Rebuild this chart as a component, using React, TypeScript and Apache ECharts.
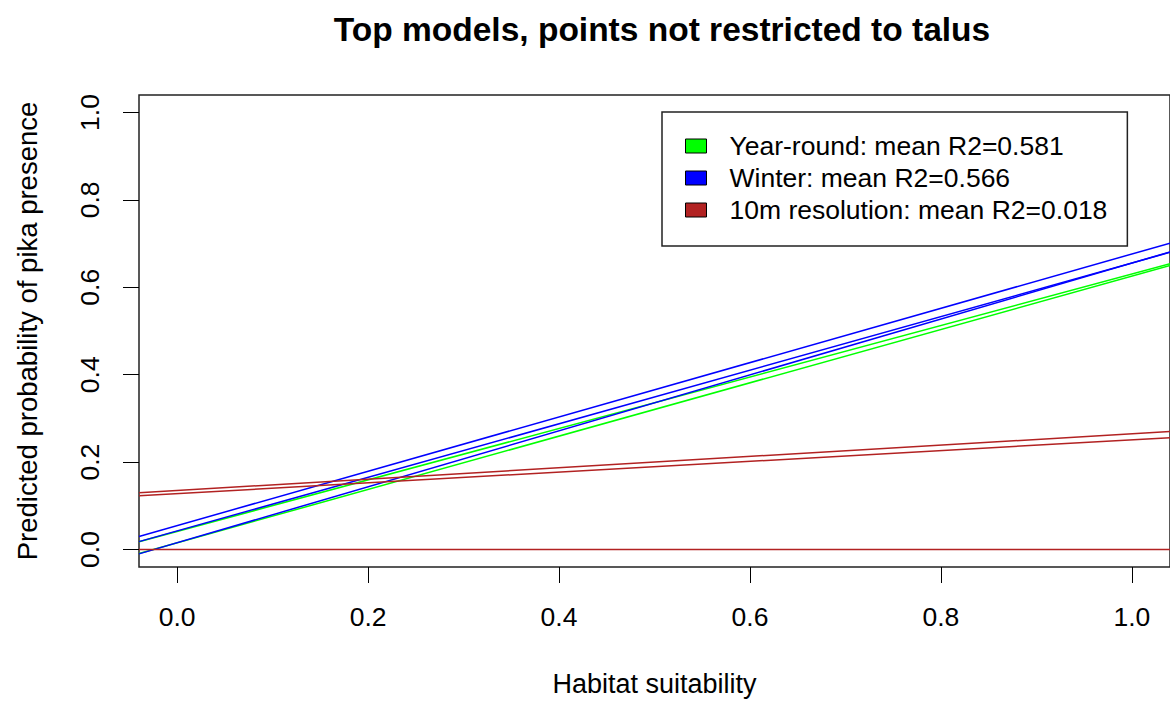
import React, { useEffect, useRef } from "react";
import * as echarts from "echarts";

const chartTitle = "Top models, points not restricted to talus";
const xName = "Habitat suitability";
const yName = "Predicted probability of pika presence";

const xTicks = [0, 0.2, 0.4, 0.6, 0.8, 1.0];
const yTicks = [0, 0.2, 0.4, 0.6, 0.8, 1.0];

// x positions of line end points (lines span the whole plot, like abline)
const lineX = [-0.04, 1.04];

const groupNames = [
  "Year-round: mean R2=0.581",
  "Winter: mean R2=0.566",
  "10m resolution: mean R2=0.018",
];
const groupColors = ["#00FF00", "#0000FF", "#B22222"];

// predicted probability at each end of lineX, one pair per model line
const yearRoundLines = [
  [0.018, 0.654],
  [-0.009, 0.65],
];
const winterLines = [
  [0.03, 0.701],
  [0.018, 0.68],
  [-0.01, 0.681],
];
const tenMeterLines = [
  [0.13, 0.27],
  [0.123, 0.256],
  [0.0, 0.0],
];

const FONT = "'Liberation Sans', Arial, sans-serif";

export default function App() {
  const ref = useRef<HTMLDivElement>(null);

  useEffect(() => {
    if (!ref.current) return;
    const chart = echarts.init(ref.current, undefined, { renderer: "svg" });

    const groups = [yearRoundLines, winterLines, tenMeterLines];
    const series: any[] = [];
    groups.forEach((lines, gi) => {
      lines.forEach((ys) => {
        series.push({
          type: "line",
          name: groupNames[gi],
          color: groupColors[gi],
          data: lineX.map((x, i) => [x, ys[i]]),
          showSymbol: false,
          symbol: "none",
          silent: true,
          lineStyle: { color: groupColors[gi], width: 1.5 },
        });
      });
    });

    chart.setOption({
      animation: false,
      textStyle: { fontFamily: FONT },
      title: {
        text: chartTitle,
        left: 657,
        top: 7,
        textAlign: "center",
        textStyle: {
          fontFamily: FONT,
          fontSize: 33.5,
          fontWeight: "bold",
          color: "#000",
        },
      },
      grid: {
        left: 139,
        top: 95,
        right: -17,
        bottom: 132,
        show: true,
        borderColor: "#222",
        borderWidth: 1.5,
        backgroundColor: "transparent",
      },
      legend: {
        show: true,
        orient: "vertical",
        left: 662,
        top: 112,
        data: groupNames.map((n) => ({ name: n, icon: "rect" })),
        itemWidth: 21,
        itemHeight: 14,
        itemGap: 0,
        padding: [18, 20, 20, 23],
        selectedMode: false,
        backgroundColor: "#fff",
        borderColor: "#222",
        borderWidth: 1.5,
        itemStyle: { borderColor: "#000", borderWidth: 1 },
        textStyle: {
          fontFamily: FONT,
          fontSize: 26.5,
          color: "#000",
          lineHeight: 32,
          padding: [0, 0, 0, 18],
        },
      },
      xAxis: {
        type: "value",
        min: -0.04,
        max: 1.04,
        name: xName,
        nameLocation: "middle",
        nameGap: 103,
        nameTextStyle: { fontFamily: FONT, fontSize: 27, color: "#000" },
        splitLine: { show: false },
        axisLine: { show: false, onZero: false },
        axisTick: {
          show: true,
          inside: false,
          length: 16,
          customValues: xTicks,
          lineStyle: { color: "#000", width: 1 },
        },
        axisLabel: {
          customValues: xTicks,
          margin: 36,
          fontFamily: FONT,
          fontSize: 26.5,
          color: "#000",
          formatter: (v: number) => v.toFixed(1),
        },
      },
      yAxis: {
        type: "value",
        min: -0.04,
        max: 1.04,
        name: yName,
        nameLocation: "middle",
        nameRotate: 90,
        nameGap: 98,
        nameTextStyle: { fontFamily: FONT, fontSize: 27.5, color: "#000" },
        splitLine: { show: false },
        axisLine: { show: false, onZero: false },
        axisTick: {
          show: true,
          inside: false,
          length: 16,
          customValues: yTicks,
          lineStyle: { color: "#000", width: 1 },
        },
        axisLabel: {
          customValues: yTicks,
          rotate: 90,
          margin: 36,
          fontFamily: FONT,
          fontSize: 26.5,
          color: "#000",
          formatter: (v: number) => v.toFixed(1),
        },
      },
      series,
    });

    return () => chart.dispose();
  }, []);

  return (
    <div
      ref={ref}
      style={{
        position: "absolute",
        left: 0,
        top: 0,
        width: 1170,
        height: 702,
        background: "#fff",
      }}
    />
  );
}
